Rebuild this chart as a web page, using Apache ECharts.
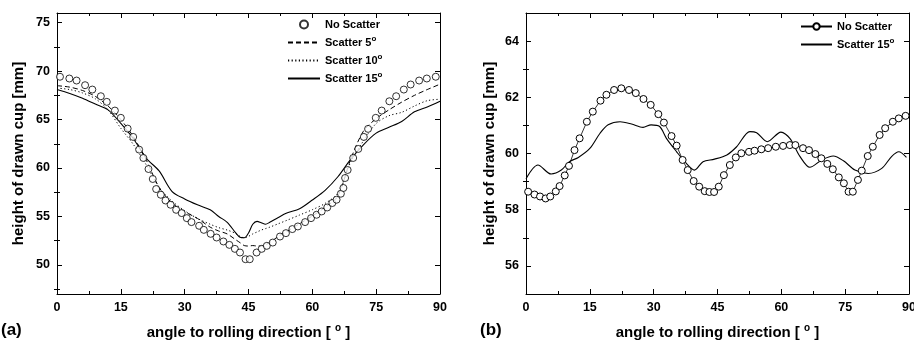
<!DOCTYPE html>
<html>
<head>
<meta charset="utf-8">
<script src="https://cdn.jsdelivr.net/npm/echarts@6/dist/echarts.min.js"></script>
<style>
html,body{margin:0;padding:0;background:#fff;}
#chart{width:914px;height:340px;}
</style>
</head>
<body>
<div id="chart"></div>
<script>
// ---------- DATA ----------
// Panel (a)
const leftCircleAngles = [0.7,2.9,4.6,6.6,8.3,10.3,11.7,13.6,15.0,16.6,17.9,19.3,20.3,21.5,22.5,23.3,24.4,25.5,26.7,28.0,29.3,30.5,31.6,33.4,34.5,36.1,37.5,39.1,40.5,41.8,43.0,44.3,45.3,46.9,48.1,49.3,50.7,52.4,53.8,55.3,56.6,58.3,59.7,61.0,62.2,63.5,64.7,65.7,66.7,67.3,67.7,68.3,69.6,70.8,72.1,73.1,74.9,76.3,78.1,79.7,81.5,83.1,85.1,86.9,89.0];
const leftCircleValues = [69.42,69.24,69.03,68.55,68.10,67.41,66.83,65.93,65.18,64.07,63.21,61.90,61.04,59.9,58.87,57.83,57.24,56.65,56.21,55.69,55.35,54.83,54.42,54.04,53.62,53.21,52.83,52.42,52.07,51.66,51.28,50.59,50.59,51.28,51.66,51.97,52.31,52.93,53.28,53.70,53.97,54.42,54.83,55.18,55.52,55.93,56.39,56.73,57.35,57.94,58.97,59.8,61.04,61.97,63.21,64.04,65.18,65.93,66.89,67.41,68.10,68.62,69.03,69.24,69.42];
const leftLineAngles = [0,3,6,9,12,15,18,21,24,27,30,33,36,38,40,42,43,44,45,46,47,48,49,50,52,54,57,60,63,66,69,72,75,78,81,84,87,90];
const scatter5Left  = [68.5,68.35,68.0,67.4,66.4,65.0,63.2,60.8,58.0,56.4,55.5,54.8,53.9,53.5,53.2,52.6,52.3,52.0,51.95,52.0,51.95,51.95,52.1,52.3,52.95,53.45,54.25,55.05,55.95,57.1,60.9,63.8,65.1,66.0,66.8,67.5,68.1,68.65];
const scatter10Left = [68.25,68.1,67.75,67.15,66.0,64.1,62.4,60.3,58.0,56.6,55.6,54.8,54.2,53.85,53.6,53.25,52.95,52.8,52.95,53.2,53.4,53.6,53.75,53.9,54.25,54.6,55.15,55.7,56.35,57.4,60.6,62.8,64.6,65.4,65.75,66.4,66.95,67.1];
const scatter15Left = [68.1,67.7,67.2,66.6,66.0,64.6,63.0,61.0,59.7,57.6,56.8,56.2,55.7,55.0,54.4,53.3,52.85,52.8,53.3,54.2,54.5,54.35,54.2,54.4,54.9,55.35,55.8,56.7,57.7,59.1,60.9,62.4,63.6,64.2,64.8,65.8,66.3,66.9];
// Panel (b)
const rightCircleAngles = [0.5,2.0,3.3,4.6,5.7,7.0,7.9,9.1,10.1,11.4,12.6,14.3,15.7,17.5,18.9,20.7,22.4,24.2,25.8,27.6,29.3,31.1,32.4,34.2,35.4,36.8,38.0,39.4,40.7,42.0,43.1,44.2,45.3,46.5,47.9,49.3,50.6,52.4,53.7,55.3,56.9,58.7,60.4,62.0,63.3,65.1,66.5,68.0,69.4,70.8,72.1,73.5,74.7,75.8,76.8,78.0,78.9,80.3,81.5,83.1,84.4,86.2,87.6,89.2];
const rightCircleValues = [58.64,58.54,58.47,58.40,58.47,58.65,58.84,59.22,59.56,60.12,60.54,61.13,61.49,61.88,62.09,62.26,62.32,62.26,62.15,61.94,61.73,61.40,61.10,60.62,60.28,59.77,59.41,59.02,58.82,58.66,58.63,58.63,58.82,59.23,59.59,59.86,60.01,60.06,60.10,60.15,60.19,60.24,60.27,60.30,60.30,60.19,60.12,59.98,59.83,59.63,59.44,59.15,58.94,58.64,58.64,59.06,59.39,59.91,60.24,60.66,60.90,61.13,61.25,61.34];
const rightLineAngles = [0,2.8,5.9,8.3,10.2,12.3,15.0,17.4,19.3,22.1,24.8,27.5,29.4,31.4,33.0,35.4,37.3,39.6,41.6,44.3,47.2,49.5,52.6,54.2,56.7,59.9,62.0,64.4,66.7,69.5,72.2,74.6,77.3,80.4,83.6,85.9,87.6,89.4];
const scatter15Right = [59.1,59.59,59.27,59.41,59.71,59.86,60.18,60.72,61.02,61.13,61.05,60.93,61.02,60.96,60.54,60.06,59.71,59.41,59.71,59.80,59.95,60.24,60.78,60.74,60.42,60.76,60.54,59.89,59.51,59.77,59.91,59.74,59.41,59.29,59.47,59.89,60.06,59.86];
// Ticks
const xTicks = [0,15,30,45,60,75,90];
const leftYMajor = [50,55,60,65,70,75];
const leftYMinor = [47.5,52.5,57.5,62.5,67.5,72.5];
const rightYMajor = [56,58,60,62,64];
const rightYMinor = [57,59,61,63];

// ---------- HELPERS ----------
const pairs = (xs, ys) => xs.map((x, i) => [x, ys[i]]);
const FONT = '"Liberation Sans", Arial, Helvetica, sans-serif';
const black = {color:'#000', width:1};

function xAxesFor(g) {
  const base = (pos, lab) => ({
    gridIndex:g, type:'value', min:xTicks[0], max:xTicks[xTicks.length-1], interval:xTicks[1]-xTicks[0], position:pos,
    axisLine:{show:true, onZero:false, lineStyle:black},
    axisTick:{show:true, inside:true, length:5, lineStyle:black},
    minorTick:{show:true, splitNumber:2, length:3, lineStyle:black},
    splitLine:{show:false}, minorSplitLine:{show:false},
    axisLabel:{show:lab, color:'#000', fontFamily:FONT, fontWeight:'bold', fontSize:12.5, margin:7},
    name: lab ? 'angle to rolling direction [ {sup|o} ]' : '',
    nameLocation:'middle', nameGap:29,
    nameTextStyle:{color:'#000', fontFamily:FONT, fontWeight:'bold', fontSize:15,
      rich:{sup:{fontSize:10, fontFamily:FONT, fontWeight:'bold', color:'#000', padding:[0,0,9,0]}}}
  });
  return [base('bottom', true), base('top', false)];
}
function yAxesFor(g, min, max, majors, minors, nameGap) {
  const major = (pos, lab) => ({
    gridIndex:g, type:'value', min:min, max:max, position:pos,
    axisLine:{show:true, onZero:false, lineStyle:black},
    axisTick:{show:true, inside:true, length:5, customValues:majors, lineStyle:black},
    splitLine:{show:false},
    axisLabel:{show:lab, customValues:majors, color:'#000', fontFamily:FONT, fontWeight:'bold', fontSize:12.5, margin:7},
    name: lab ? 'height of drawn cup [mm]' : '',
    nameLocation:'middle', nameGap:nameGap,
    nameTextStyle:{color:'#000', fontFamily:FONT, fontWeight:'bold', fontSize:15}
  });
  const minor = (pos) => ({
    gridIndex:g, type:'value', min:min, max:max, position:pos,
    axisLine:{show:false},
    axisTick:{show:true, inside:true, length:3, customValues:minors, lineStyle:black},
    axisLabel:{show:false}, splitLine:{show:false}
  });
  return [major('left', true), minor('left'), major('right', false), minor('right')];
}

const legendText = {
  color:'#000', fontFamily:FONT, fontWeight:'bold', fontSize:11,
  rich:{sup:{fontSize:8, fontFamily:FONT, fontWeight:'bold', color:'#000', padding:[0,0,7,0]}}
};
const fmt = (name) => {
  const base = name.replace(' (b)', '');
  const m = base.match(/^Scatter (\d+)$/);
  return m ? 'Scatter ' + m[1] + '{sup|o}' : base;
};
const noSym = {color:'rgba(0,0,0,0)', borderWidth:0, opacity:0};

const option = {
  animation:false,
  backgroundColor:'#fff',
  grid:[
    {left:57, top:13, width:383, height:281, outerBoundsMode:'none', containLabel:false},
    {left:526, top:13, width:383, height:281, outerBoundsMode:'none', containLabel:false}
  ],
  xAxis:[...xAxesFor(0), ...xAxesFor(1)],
  yAxis:[...yAxesFor(0, 47, 76, leftYMajor, leftYMinor, 31), ...yAxesFor(1, 55, 65, rightYMajor, rightYMinor, 29)],
  legend:[
    {data:['No Scatter',{name:'Scatter 5', itemStyle:noSym},{name:'Scatter 10', itemStyle:noSym},{name:'Scatter 15', itemStyle:noSym}],
     orient:'vertical', left:287, top:19, padding:0,
     itemWidth:32, itemHeight:8, itemGap:5, textStyle:legendText, formatter:fmt, selectedMode:false},
    {data:['No Scatter (b)',{name:'Scatter 15 (b)', itemStyle:noSym}], orient:'vertical', left:800, top:21, padding:0,
     itemWidth:31, itemHeight:8, itemGap:5, textStyle:legendText, formatter:fmt, selectedMode:false}
  ],
  graphic:[
    {type:'text', left:1, top:322, style:{text:'(a)', font:'bold 17px ' + FONT, fill:'#000'}},
    {type:'text', left:480, top:322, style:{text:'(b)', font:'bold 17px ' + FONT, fill:'#000'}}
  ],
  series:[
    {name:'Scatter 5', type:'line', xAxisIndex:0, yAxisIndex:0, data:pairs(leftLineAngles, scatter5Left),
     symbol:'none', smooth:0.3, lineStyle:{color:'#000', width:1, type:[5,3]}, itemStyle:{color:'#000'}},
    {name:'Scatter 10', type:'line', xAxisIndex:0, yAxisIndex:0, data:pairs(leftLineAngles, scatter10Left),
     symbol:'none', smooth:0.3, lineStyle:{color:'#000', width:1, type:[1.2,2.4]}, itemStyle:{color:'#000'}},
    {name:'Scatter 15', type:'line', xAxisIndex:0, yAxisIndex:0, data:pairs(leftLineAngles, scatter15Left),
     symbol:'none', smooth:0.3, lineStyle:{color:'#000', width:1.1}, itemStyle:{color:'#000'}},
    {name:'No Scatter', type:'scatter', xAxisIndex:0, yAxisIndex:0, data:pairs(leftCircleAngles, leftCircleValues),
     symbol:'circle', symbolSize:7, itemStyle:{color:'#fff', borderColor:'#000', borderWidth:1}, z:5},
    {name:'Scatter 15 (b)', type:'line', xAxisIndex:2, yAxisIndex:4, data:pairs(rightLineAngles, scatter15Right),
     symbol:'none', smooth:0.3, lineStyle:{color:'#000', width:1.1}, itemStyle:{color:'#000'}},
    {name:'No Scatter (b)', type:'line', xAxisIndex:2, yAxisIndex:4, data:pairs(rightCircleAngles, rightCircleValues),
     symbol:'circle', symbolSize:7, showSymbol:true, lineStyle:{color:'#000', width:0.8},
     itemStyle:{color:'#fff', borderColor:'#000', borderWidth:1}, z:5}
  ]
};
const chart = echarts.init(document.getElementById('chart'), null, {renderer:'canvas'});
chart.setOption(option);
</script>
</body>
</html>
